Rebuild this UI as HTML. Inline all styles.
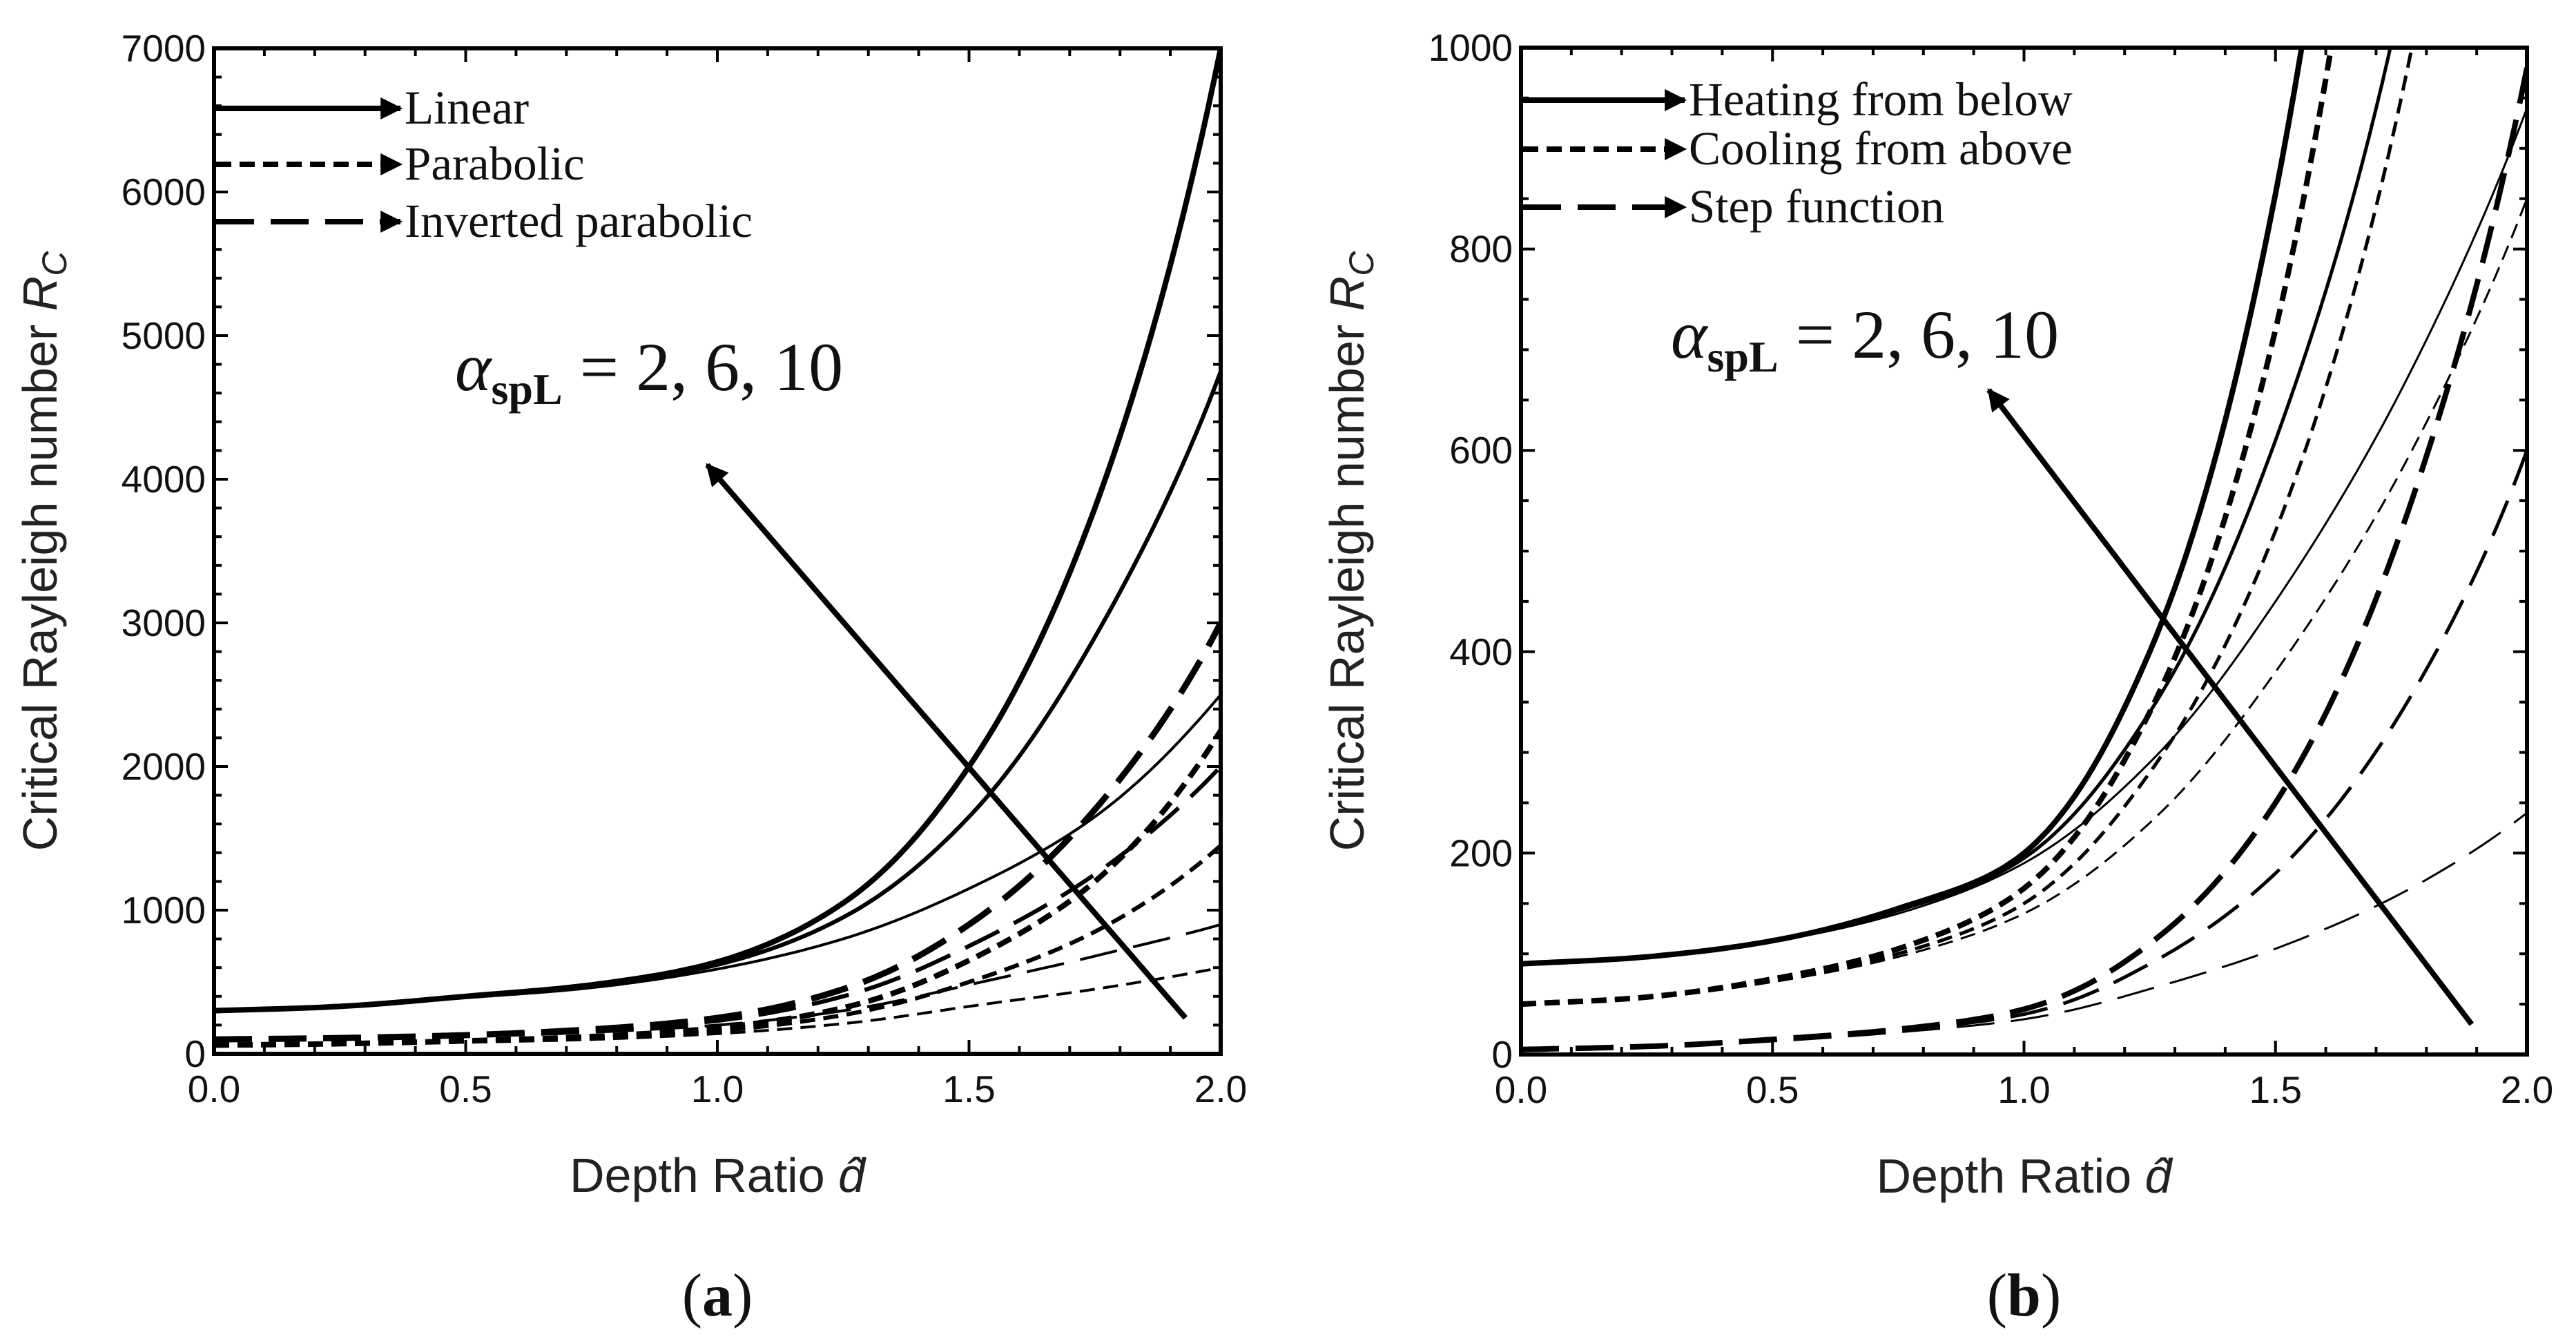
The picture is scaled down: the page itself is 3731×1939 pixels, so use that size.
<!DOCTYPE html>
<html><head><meta charset="utf-8">
<style>
html,body{margin:0;padding:0;background:#fff;}
svg{display:block;}
.tick{font-family:"Liberation Sans",sans-serif;font-size:55px;fill:#111;}
.atitle{font-family:"Liberation Sans",sans-serif;font-size:70px;fill:#222;}
.serif{font-family:"Liberation Serif",serif;fill:#111;}
</style></head>
<body>
<svg id="fig" width="3731" height="1939" viewBox="0 0 3731 1939" xmlns="http://www.w3.org/2000/svg">
<defs>
<clipPath id="clipA"><rect x="310" y="70" width="1458" height="1456"/></clipPath>
<clipPath id="clipB"><rect x="2203" y="69" width="1457" height="1458"/></clipPath>
<marker id="ah" viewBox="0 0 10 10" refX="9" refY="5" markerWidth="5" markerHeight="4" orient="auto" markerUnits="strokeWidth"><path d="M0,0 L10,5 L0,10 z" fill="#000"/></marker>
</defs>
</svg>
<script>
// ---- shared data ----
const dVals = [0, 0.25, 0.5, 0.75, 1.0, 1.25, 1.5, 1.75, 2.0];
// Panel (a)
const aLinearThick  = [300, 330, 400, 480, 640, 1050, 2000, 3800, 7000];
const aLinearMed    = [300, 330, 400, 480, 620, 950, 1650, 2900, 4750];
const aLinearThin   = [300, 330, 390, 460, 590, 800, 1150, 1650, 2500];
const aParabThick   = [60, 70, 90, 120, 180, 320, 650, 1200, 2250];
const aParabMed     = [60, 70, 85, 110, 160, 270, 500, 850, 1450];
const aParabThin    = [60, 65, 80, 100, 140, 210, 330, 450, 600];
const aInvThick     = [100, 110, 130, 170, 250, 450, 900, 1700, 3000];
const aInvMed       = [100, 110, 125, 160, 230, 400, 750, 1250, 2000];
const aInvThin      = [100, 105, 120, 150, 200, 300, 480, 680, 900];
const aYTicks = [0, 1000, 2000, 3000, 4000, 5000, 6000, 7000];
const xTicks = [0, 0.5, 1.0, 1.5, 2.0];
const xTickLabels = ["0.0", "0.5", "1.0", "1.5", "2.0"];
// Panel (b)
const bHeatThick = [90, 97, 113, 145, 200, 400, 855, 1800, 3600];
const bHeatMed   = [90, 97, 113, 143, 195, 340, 610, 1050, 1900];
const bHeatThin  = [90, 96, 112, 140, 190, 290, 450, 660, 940];
const bCoolThick = [50, 57, 75, 105, 165, 340, 720, 1500, 3000];
const bCoolMed   = [50, 57, 73, 100, 150, 280, 520, 950, 1750];
const bCoolThin  = [50, 56, 72, 97, 140, 230, 380, 580, 850];
const bStepThick = [5, 8, 15, 25, 45, 110, 250, 520, 980];
const bStepMed   = [5, 8, 14, 24, 40, 90, 180, 340, 600];
const bStepThin  = [5, 7, 13, 22, 35, 65, 105, 160, 240];
const bYTicks = [0, 200, 400, 600, 800, 1000];

const NS = "http://www.w3.org/2000/svg";
const svg = document.getElementById("fig");
function el(tag, attrs, parent) {
  const e = document.createElementNS(NS, tag);
  for (const k in attrs) e.setAttribute(k, attrs[k]);
  (parent || svg).appendChild(e);
  return e;
}
// smooth path: Catmull-Rom in log(value) space, densely sampled
function smoothPath(xs, vals, X, Y) {
  const L = vals.map(v => Math.log(v));
  const n = L.length;
  let d = "";
  for (let i = 0; i < n - 1; i++) {
    const p0 = L[Math.max(i - 1, 0)], p1 = L[i], p2 = L[i + 1], p3 = L[Math.min(i + 2, n - 1)];
    const m1 = (p2 - p0) / (i === 0 ? 1 : 2), m2 = (p3 - p1) / (i + 1 === n - 1 ? 1 : 2);
    for (let s = (i === 0 ? 0 : 1); s <= 20; s++) {
      const t = s / 20, t2 = t * t, t3 = t2 * t;
      const v = (2*t3 - 3*t2 + 1) * p1 + (t3 - 2*t2 + t) * m1 + (-2*t3 + 3*t2) * p2 + (t3 - t2) * m2;
      const x = xs[i] + (xs[i + 1] - xs[i]) * t;
      d += (d ? " L" : "M") + X(x).toFixed(1) + "," + Y(Math.exp(v)).toFixed(1);
    }
  }
  return d;
}

function panel(cfg) {
  const g = el("g", {});
  
  
  const X = v => cfg.x0 + (v - 0) / 2 * (cfg.x1 - cfg.x0);
  const Y = v => cfg.y1 - v / cfg.ymax * (cfg.y1 - cfg.y0);
  const sg = el("g", {"clip-path": "url(#" + cfg.clip + ")"}, g);
  cfg.series.forEach(s => {
    const p = el("path", {d: smoothPath(dVals, s.vals, X, Y), fill: "none", stroke: "#000", "stroke-width": s.w, "stroke-dasharray": s.dash || "none"}, sg);
    
    
  });
  const fr = el("rect", {x: cfg.x0, y: cfg.y0, width: cfg.x1 - cfg.x0, height: cfg.y1 - cfg.y0, fill: "none", stroke: "#000", "stroke-width": 6}, g);
  
  
  for (let t = 0; t <= 20; t++) {
    const v = t / 10, major = t % 5 === 0, Lt = major ? 20 : 11;
    el("line", {x1: X(v), x2: X(v), y1: cfg.y1, y2: cfg.y1 - Lt, stroke: "#000", "stroke-width": 4}, g);
    el("line", {x1: X(v), x2: X(v), y1: cfg.y0, y2: cfg.y0 + Lt, stroke: "#000", "stroke-width": 4}, g);
  }
  xTicks.forEach((v, i) => {
    const t = el("text", {x: X(v), y: cfg.y1 + 70, "text-anchor": "middle", class: "tick"}, g);
    t.textContent = xTickLabels[i];
    
    
  });
  for (let v = 0; v <= cfg.ymax + 1e-9; v += cfg.minor) {
    const major = Math.abs(v / cfg.major - Math.round(v / cfg.major)) < 1e-6, Lt = major ? 20 : 11;
    el("line", {x1: cfg.x0, x2: cfg.x0 + Lt, y1: Y(v), y2: Y(v), stroke: "#000", "stroke-width": 4}, g);
    el("line", {x1: cfg.x1, x2: cfg.x1 - Lt, y1: Y(v), y2: Y(v), stroke: "#000", "stroke-width": 4}, g);
  }
  cfg.yTicks.forEach(v => {
    const t = el("text", {x: cfg.x0 - 12, y: Y(v) + 19, "text-anchor": "end", class: "tick"}, g);
    t.textContent = String(v);
    
    
  });
  const xt = el("text", {x: (cfg.x0 + cfg.x1) / 2, y: cfg.y1 + 200, "text-anchor": "middle", class: "atitle"}, g);
  xt.innerHTML = 'Depth Ratio <tspan font-style="italic">d̂</tspan>';
  
  
  const yt = el("text", {x: 0, y: 0, "text-anchor": "middle", class: "atitle", transform: "translate(" + cfg.ytx + "," + ((cfg.y0 + cfg.y1) / 2) + ") rotate(-90)"}, g);
  yt.innerHTML = 'Critical Rayleigh number <tspan font-style="italic">R</tspan><tspan font-style="italic" font-size="50" dy="14">C</tspan>';
  
  
  cfg.legend.forEach(lg => {
    const ln = el("line", {x1: cfg.x0 + 3, x2: cfg.legX2, y1: lg.y, y2: lg.y, stroke: "#000", "stroke-width": 8, "stroke-dasharray": lg.dash || "none", "marker-end": "url(#ah)"}, g);
    
    
    const t = el("text", {x: cfg.legX2 + 6, y: lg.y + 22, class: "serif", "font-size": 69}, g);
    t.textContent = lg.label;
    
    
  });
  const ar = el("line", {x1: X(cfg.arrow[0]), y1: Y(cfg.arrow[1]), x2: X(cfg.arrow[2]), y2: Y(cfg.arrow[3]), stroke: "#000", "stroke-width": 8, "marker-end": "url(#ah)"}, g);
  
  
  const an = el("text", {x: cfg.annX, y: cfg.annY, class: "serif", "font-size": 100}, g);
  an.innerHTML = '<tspan font-style="italic">α</tspan><tspan font-size="64" dy="20" font-weight="bold">spL</tspan><tspan dy="-20"> = 2, 6, 10</tspan>';
  
  
  const cap = el("text", {x: (cfg.x0 + cfg.x1) / 2, y: 1905, "text-anchor": "middle", class: "serif", "font-size": 88}, g);
  cap.innerHTML = '(<tspan font-weight="bold">' + cfg.cap + '</tspan>)';
  
  
}

const SD = "22,12", LD = "55,24";
panel({name: "panel-a", clip: "clipA", x0: 310, x1: 1768, y0: 70, y1: 1526, ymax: 7000, major: 1000, minor: 200, yTicks: aYTicks, ytx: 82,
  series: [
    {name: "linear-alpha-2", vals: aLinearThick, w: 8},
    {name: "linear-alpha-6", vals: aLinearMed, w: 6},
    {name: "linear-alpha-10", vals: aLinearThin, w: 4},
    {name: "parabolic-alpha-2", vals: aParabThick, w: 8, dash: SD},
    {name: "parabolic-alpha-6", vals: aParabMed, w: 6, dash: SD},
    {name: "parabolic-alpha-10", vals: aParabThin, w: 4, dash: SD},
    {name: "inverted-alpha-2", vals: aInvThick, w: 9, dash: LD},
    {name: "inverted-alpha-6", vals: aInvMed, w: 6, dash: LD},
    {name: "inverted-alpha-10", vals: aInvThin, w: 4, dash: LD}],
  legend: [{y: 157, label: "Linear"}, {y: 238, dash: SD, label: "Parabolic"}, {y: 321, dash: LD, label: "Inverted parabolic"}],
  legX2: 580, arrow: [1.93, 250, 0.98, 4100], annX: 659, annY: 565, cap: "a"});
panel({name: "panel-b", clip: "clipB", x0: 2203, x1: 3660, y0: 69, y1: 1527, ymax: 1000, major: 200, minor: 50, yTicks: bYTicks, ytx: 1975,
  series: [
    {name: "heating-alpha-2", vals: bHeatThick, w: 8},
    {name: "heating-alpha-6", vals: bHeatMed, w: 5},
    {name: "heating-alpha-10", vals: bHeatThin, w: 3},
    {name: "cooling-alpha-2", vals: bCoolThick, w: 8, dash: SD},
    {name: "cooling-alpha-6", vals: bCoolMed, w: 5, dash: SD},
    {name: "cooling-alpha-10", vals: bCoolThin, w: 3, dash: SD},
    {name: "step-alpha-2", vals: bStepThick, w: 8, dash: LD},
    {name: "step-alpha-6", vals: bStepMed, w: 5, dash: LD},
    {name: "step-alpha-10", vals: bStepThin, w: 3, dash: LD}],
  legend: [{y: 145, label: "Heating from below"}, {y: 216, dash: SD, label: "Cooling from above"}, {y: 300, dash: LD, label: "Step function"}],
  legX2: 2440, arrow: [1.89, 30, 0.93, 660], annX: 2420, annY: 518, cap: "b"});
</script>
</body></html>
